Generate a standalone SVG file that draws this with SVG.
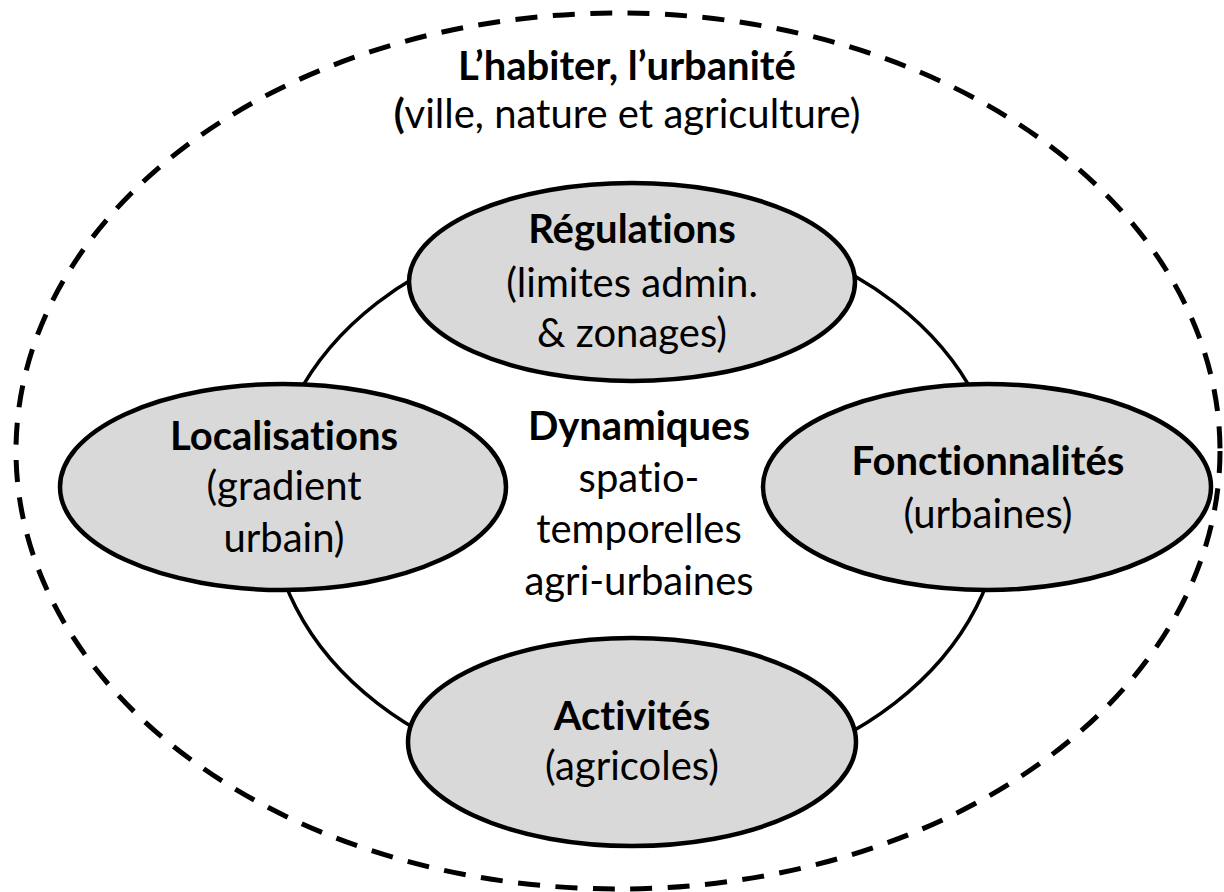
<svg xmlns="http://www.w3.org/2000/svg" width="1224" height="892" viewBox="0 0 1224 892">
  <style>
    .node { fill: #d9d9d9; stroke: #000; stroke-width: 4.5; }
    .outer { fill: none; stroke: #000; stroke-width: 5; stroke-dasharray: 22 15.5; }
    .ring { fill: none; stroke: #000; stroke-width: 3.5; }
    text { font-family: "Lato", "Carlito", "Liberation Sans", sans-serif; font-size: 40px; fill: #000; text-anchor: middle; font-variant-ligatures: none; font-feature-settings: "liga" 0, "dlig" 0; }
    .b { font-weight: bold; }
  </style>
  <rect width="1224" height="892" fill="#fff"/>
  <g id="context">
    <ellipse class="outer" cx="618" cy="451" rx="602" ry="438"/>
    <text class="b" x="627" y="80">L’habiter, l’urbanité</text>
    <text x="627" y="128"><tspan class="b">(</tspan>ville, nature et agriculture)</text>
  </g>
  <g id="connectors">
    <ellipse class="ring" cx="636" cy="503" rx="366" ry="283"/>
  </g>
  <g id="center">
    <text class="b" x="639" y="440">Dynamiques</text>
    <text x="639" y="492">spatio-</text>
    <text x="639" y="543">temporelles</text>
    <text x="639" y="595">agri-urbaines</text>
  </g>
  <g id="regulations">
    <ellipse class="node" cx="632" cy="282" rx="223" ry="99"/>
    <text class="b" x="632" y="243">Régulations</text>
    <text x="632" y="297">(limites admin.</text>
    <text x="632" y="347">&amp; zonages)</text>
  </g>
  <g id="localisations">
    <ellipse class="node" cx="283" cy="487" rx="223" ry="103"/>
    <text class="b" x="284" y="450">Localisations</text>
    <text x="284" y="500">(gradient</text>
    <text x="284" y="552">urbain)</text>
  </g>
  <g id="fonctionnalites">
    <ellipse class="node" cx="987" cy="487" rx="224" ry="103"/>
    <text class="b" x="988" y="475">Fonctionnalités</text>
    <text x="988" y="528">(urbaines)</text>
  </g>
  <g id="activites">
    <ellipse class="node" cx="632" cy="742" rx="224" ry="104"/>
    <text class="b" x="632" y="730">Activités</text>
    <text x="632" y="780">(agricoles)</text>
  </g>
</svg>
